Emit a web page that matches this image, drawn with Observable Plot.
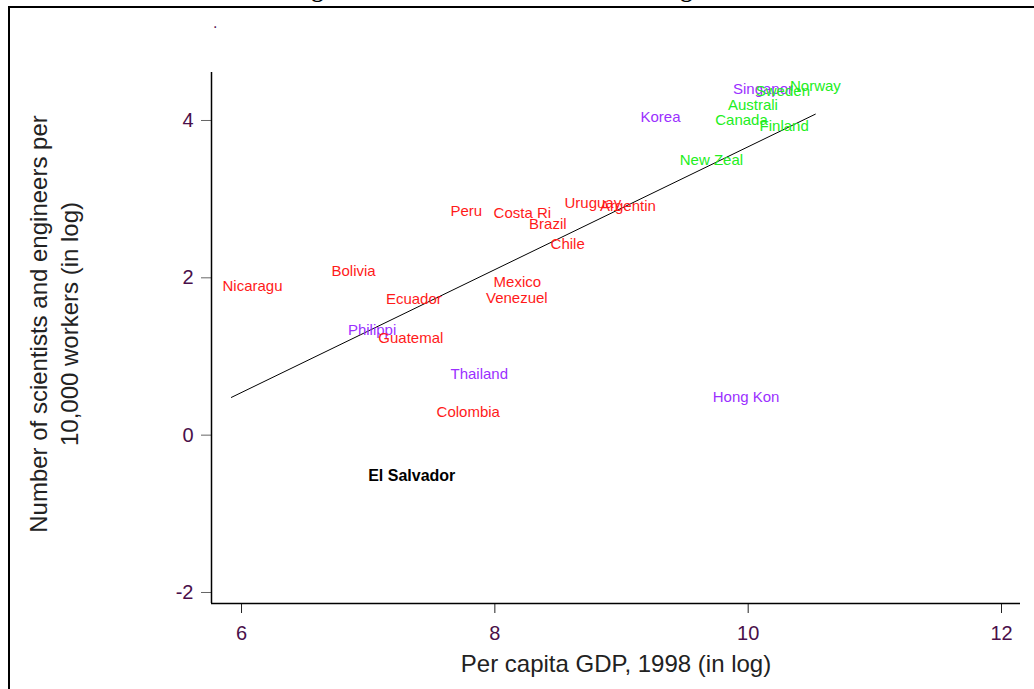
<!DOCTYPE html>
<html><head><meta charset="utf-8">
<script src="https://cdn.jsdelivr.net/npm/d3@7"></script>
<script src="https://cdn.jsdelivr.net/npm/@observablehq/plot@0.6"></script>
<style>
html,body{margin:0;padding:0;background:#fff;width:1034px;height:689px;overflow:hidden;position:relative}
#frame{position:absolute;left:8px;top:6px;width:1100px;height:800px;border:2px solid #000;box-sizing:border-box}
#title{position:absolute;left:10px;width:1024px;top:-24px;line-height:24px;text-align:center;font:bold 24px "Liberation Serif","Times New Roman",serif;color:#000;white-space:nowrap}
#dot{position:absolute;left:213px;top:14px;font:16px "Liberation Sans",Arial,sans-serif;color:#5a1a5a}
#chart{position:absolute;left:0;top:0}
</style></head>
<body>
<div id="title">Figure 4. Number of Scientists and Engineers</div>
<div id="frame"></div>
<div id="dot">.</div>
<div id="chart"></div>
<script>
const countries = ["Nicaragu","Bolivia","Ecuador","Philippi","Guatemal","Peru","Costa Ri","Brazil","Chile","Uruguay","Argentin","Mexico","Venezuel","Thailand","Colombia","El Salvador","Hong Kon","Korea","Singapor","Sweden","Norway","Australi","Canada","Finland","New Zeal"];
const gdpLog = [5.85,6.71,7.14,6.84,7.08,7.65,7.99,8.27,8.44,8.55,8.83,7.99,7.93,7.65,7.54,7.00,9.72,9.15,9.88,10.06,10.33,9.84,9.74,10.09,9.46];
const sciLog = [1.89,2.08,1.73,1.34,1.23,2.85,2.82,2.68,2.43,2.95,2.91,1.94,1.74,0.77,0.29,-0.52,0.48,4.04,4.40,4.37,4.44,4.20,4.00,3.93,3.50];
const regions = ["LA","LA","LA","Asia","LA","LA","LA","LA","LA","LA","LA","LA","LA","Asia","LA","Ref","Asia","Asia","Asia","OECD","OECD","OECD","OECD","OECD","OECD"];
const fitX = [5.92, 10.53];
const fitY = [0.48, 4.08];
const xTicks = [6, 8, 10, 12];
const yTicks = [-2, 0, 2, 4];
const xTitle = "Per capita GDP, 1998 (in log)";
const yTitle = "Number of scientists and engineers per\n10,000 workers (in log)";

const regionColor = {LA: "#ff1a1a", Asia: "#9b30ff", OECD: "#22ee22", Ref: "#000000"};
const pts = countries.map((c, i) => ({name: c, x: gdpLog[i], y: sciLog[i], r: regions[i]}));
const fit = fitX.map((x, i) => ({x, y: fitY[i]}));
const xDom = [5.763, 12.15], yDom = [-2.14, 4.61];
const fmt = d => `${d}`;

const chart = Plot.plot({
  width: 1034, height: 689,
  marginLeft: 211, marginRight: 14, marginTop: 72, marginBottom: 86,
  style: {fontFamily: "'Liberation Sans', Arial, sans-serif", background: "transparent"},
  x: {domain: xDom}, y: {domain: yDom},
  marks: [
    Plot.axisX({ticks: xTicks, tickFormat: fmt, tickSize: 10, tickPadding: 12, fontSize: 20, fill: "#4a0f4a", stroke: "#222", label: null}),
    Plot.axisY({ticks: yTicks, tickFormat: fmt, tickSize: 10, tickPadding: 8, fontSize: 20, fill: "#4a0f4a", stroke: "#666", label: null}),
    Plot.ruleX([xDom[0]], {stroke: "#000", strokeWidth: 1.5}),
    Plot.ruleY([yDom[0]], {stroke: "#000", strokeWidth: 1.5}),
    Plot.line(fit, {x: "x", y: "y", stroke: "#000", strokeWidth: 1}),
    Plot.text(pts.filter(d => d.r !== "Ref"), {x: "x", y: "y", text: "name", fill: d => regionColor[d.r], textAnchor: "start", fontSize: 15}),
    Plot.text(pts.filter(d => d.r === "Ref"), {x: "x", y: "y", text: "name", fill: "#000", textAnchor: "start", fontSize: 16, fontWeight: "bold"}),
    Plot.text([xTitle], {text: d => d, frameAnchor: "bottom", dy: 61, fontSize: 24, fill: "#222", lineAnchor: "middle"}),
    Plot.text([yTitle], {text: d => d, frameAnchor: "left", textAnchor: "middle", rotate: -90, dx: -159, dy: -14, fontSize: 24, fill: "#222", lineHeight: 1.3, lineAnchor: "middle"})
  ]
});
document.getElementById("chart").appendChild(chart);
</script>
</body></html>
